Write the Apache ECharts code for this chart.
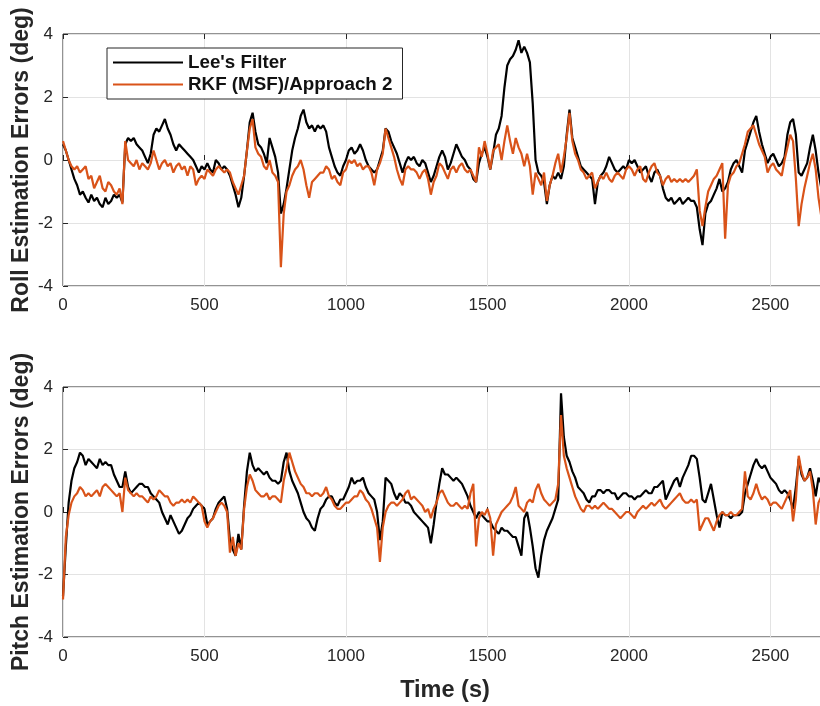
<!DOCTYPE html>
<html>
<head>
<meta charset="utf-8">
<script src="https://cdn.jsdelivr.net/npm/echarts@6/dist/echarts.min.js"></script>
<style>
  html, body { margin: 0; padding: 0; background: #fff; }
  #chart { width: 820px; height: 706px; }
</style>
</head>
<body>
<div id="chart"></div>
<script>
// 时间轴（每 10 s 一个点，0 ~ 2700 s）
const time = Array.from({ length: 271 }, (_, i) => i * 10)

// Roll —— Lee's Filter
const rollLee = [
  0.5, 0.3, 0.0, -0.3, -0.6, -0.8, -1.1, -1.0, -1.2, -1.35,
  -1.1, -1.3, -1.2, -1.4, -1.5, -1.2, -1.4, -1.3, -1.1, -1.2,
  -1.1, -1.35, 0.5, 0.7, 0.6, 0.7, 0.5, 0.4, 0.3, 0.1,
  -0.1, 0.2, 0.8, 1.0, 0.9, 1.1, 1.3, 1.0, 0.8, 0.5,
  0.3, 0.5, 0.4, 0.3, 0.2, 0.1, 0.0, -0.2, -0.4, -0.2,
  -0.3, -0.1, -0.3, -0.4, 0.0, -0.1, -0.3, -0.2, -0.3, -0.5,
  -0.8, -1.1, -1.5, -1.2, -0.5, 0.3, 1.2, 1.5, 0.9, 0.5,
  0.4, 0.2, -0.1, 0.7, 0.4, 0.1, -0.4, -1.7, -1.4, -0.9,
  -0.3, 0.3, 0.7, 1.0, 1.4, 1.6, 1.2, 1.0, 1.1, 0.9,
  1.1, 1.0, 1.1, 0.9, 0.4, 0.1, -0.2, -0.4, -0.5, -0.2,
  0.0, 0.3, 0.4, 0.2, 0.3, 0.5, 0.3, 0.0, -0.2, -0.3,
  -0.4, -0.3, 0.0, 0.3, 1.0, 0.9, 0.6, 0.4, 0.2, -0.1,
  -0.4, -0.1, 0.1, 0.0, 0.1, -0.1, -0.2, 0.0, -0.1, -0.4,
  -0.7, -0.5, -0.2, 0.1, 0.3, 0.1, -0.3, -0.1, 0.2, 0.5,
  0.3, 0.1, 0.0, -0.2, -0.3, -0.6, -0.7, -0.1, 0.2, 0.4,
  0.1, -0.3, 0.2, 0.8, 1.0, 1.4, 2.3, 3.0, 3.2, 3.3,
  3.5, 3.8, 3.4, 3.6, 3.4, 3.1, 1.8, 0.0, -0.4, -0.5,
  -0.7, -1.4, -0.8, -0.5, -0.6, -0.4, -0.6, -0.2, 0.8, 1.6,
  0.7, 0.4, 0.1, -0.2, -0.3, -0.4, -0.5, -0.6, -1.4, -0.7,
  -0.5, -0.4, -0.2, 0.1, -0.1, -0.3, -0.4, -0.3, -0.2, -0.3,
  0.0, -0.1, 0.0, -0.2, -0.4, -0.3, -0.2, -0.5, -0.7, -0.4,
  -0.3, -0.5, -0.9, -1.2, -1.3, -1.2, -1.4, -1.3, -1.2, -1.4,
  -1.3, -1.2, -1.3, -1.3, -1.5, -2.2, -2.7, -1.7, -1.4, -1.3,
  -1.1, -0.9, -0.6, -1.0, -0.9, -0.7, -0.3, -0.1, 0.0, -0.2,
  -0.4, 0.3, 0.6, 0.9, 1.2, 1.4, 0.9, 0.5, 0.2, -0.1,
  0.1, 0.2, 0.0, -0.2, -0.1, 0.1, 0.8, 1.2, 1.3, 0.8,
  -0.4, -0.5, -0.3, -0.1, 0.4, 0.8, 0.3, -0.4, -0.9, -0.7,
  -0.5
]

// Roll —— RKF (MSF)/Approach 2
const rollRkf = [
  0.6, 0.3, 0.0, -0.2, -0.3, -0.2, -0.4, -0.3, -0.2, -0.6,
  -0.5, -0.9, -0.7, -0.5, -0.9, -1.0, -0.7, -0.8, -1.0, -1.1,
  -0.9, -1.4, 0.6, 0.0, -0.1, -0.2, 0.0, -0.3, -0.1, -0.2,
  -0.3, -0.1, 0.3, 0.0, -0.3, -0.1, 0.0, -0.2, -0.1, -0.4,
  -0.2, -0.1, -0.3, -0.2, -0.5, -0.2, -0.3, -0.8, -0.6, -0.5,
  -0.6, -0.3, -0.4, -0.5, -0.3, -0.2, -0.3, -0.4, -0.3, -0.4,
  -0.7, -0.9, -1.1, -0.8, -0.5, 0.3, 1.0, 1.3, 0.4, 0.2,
  0.1, -0.2, -0.3, 0.0, -0.4, -0.5, -0.7, -3.4, -1.7, -1.0,
  -0.8, -0.5, -0.3, -0.2, 0.0, -0.3, -0.8, -1.2, -0.7, -0.6,
  -0.5, -0.4, -0.4, -0.2, -0.3, -0.6, -0.5, -0.7, -0.8, -0.4,
  -0.3, 0.0, -0.1, 0.0, -0.2, -0.1, -0.3, -0.2, -0.2, -0.4,
  -0.8, -0.3, -0.1, 0.2, 1.0, 0.7, 0.4, 0.1, -0.3, -0.6,
  -0.8, -0.3, -0.2, -0.3, -0.3, -0.4, -0.6, -0.4, -0.3, -0.6,
  -1.1, -0.7, -0.5, -0.1, -0.2, -0.4, -0.6, -0.3, -0.2, -0.4,
  -0.2, -0.1, -0.3, -0.4, -0.3, -0.5, -0.7, 0.4, 0.1, 0.6,
  0.2, -0.3, 0.3, 0.4, 0.5, 0.0, 0.6, 1.1, 0.6, 0.2,
  0.7, 0.4, 0.2, -0.2, 0.2, -0.2, -1.1, -0.4, -0.6, -0.8,
  -0.4, -1.3, -0.8, -0.5, -0.1, 0.2, -0.4, 0.1, 0.7, 1.5,
  0.6, 0.2, 0.0, -0.3, -0.4, -0.6, -0.5, -0.4, -0.9, -0.7,
  -0.5, -0.6, -0.4, -0.6, -0.7, -0.5, -0.4, -0.5, -0.6, -0.3,
  -0.2, -0.3, -0.5, -0.3, -0.2, -0.6, -0.7, -0.4, -0.2, -0.1,
  -0.4, -0.5, -0.8, -0.6, -0.5, -0.7, -0.6, -0.7, -0.6, -0.7,
  -0.6, -0.7, -0.6, -0.5, -0.3, -1.6, -2.1, -1.5, -1.0, -0.8,
  -0.6, -0.5, -0.3, -0.1, -2.5, -0.8, -0.5, -0.4, -0.2, -0.1,
  0.2, 0.5, 0.9, 1.0, 1.1, 0.8, 0.5, 0.3, 0.1, -0.4,
  -0.2, -0.1, -0.3, -0.4, -0.5, 0.0, 0.4, 0.8, 0.6, -0.6,
  -2.1, -1.4, -0.9, -0.5, -0.1, 0.2, -0.3, -1.2, -1.8, -1.6,
  -1.4
]

// Pitch —— Lee's Filter
const pitchLee = [
  -2.7, -1.1, 0.3, 1.0, 1.4, 1.6, 1.9, 1.8, 1.5, 1.7,
  1.6, 1.5, 1.4, 1.7, 1.5, 1.6, 1.5, 1.5, 1.2, 1.0,
  0.8, 0.8, 1.3, 0.8, 0.6, 0.7, 0.8, 0.9, 0.9, 0.8,
  0.8, 0.6, 0.5, 0.4, 0.3, 0.0, -0.2, -0.4, -0.1, -0.3,
  -0.5, -0.7, -0.6, -0.4, -0.2, -0.1, 0.1, 0.2, 0.3, 0.2,
  0.1, -0.4, -0.3, -0.2, 0.1, 0.3, 0.4, 0.5, 0.1, -0.9,
  -1.2, -1.4, -0.7, -1.2, 0.2, 1.3, 1.9, 1.5, 1.3, 1.4,
  1.3, 1.2, 1.3, 1.1, 1.0, 1.0, 0.9, 1.0, 1.6, 1.9,
  1.3, 1.0, 0.8, 0.6, 0.3, 0.0, -0.2, -0.3, -0.5, -0.6,
  -0.2, 0.1, 0.2, 0.4, 0.5, 0.5, 0.3, 0.2, 0.4, 0.4,
  0.6, 0.8, 1.1, 0.9, 1.0, 1.0, 1.1, 0.8, 0.6, 0.5,
  0.4, 0.0, -0.9, -0.3, 1.1, 1.0, 0.9, 0.6, 0.4, 0.6,
  0.5, 0.3, 0.3, 0.2, 0.0, -0.1, -0.2, -0.3, -0.4, -0.5,
  -1.0, -0.4, 0.3, 0.9, 1.4, 1.2, 1.2, 1.1, 1.0, 1.1,
  1.0, 0.9, 0.7, 0.5, 0.2, 0.0, -0.2, 0.0, -0.1, -0.2,
  -0.3, -0.3, -0.5, -0.6, -0.7, -0.5, -0.6, -0.6, -0.7, -0.8,
  -0.8, -1.1, -1.4, -0.2, 0.0, -0.5, -1.1, -1.8, -2.1, -1.4,
  -0.9, -0.6, -0.4, -0.2, 0.1, 0.4, 3.8, 2.4, 1.8, 1.6,
  1.3, 1.1, 0.8, 0.7, 0.6, 0.4, 0.3, 0.5, 0.5, 0.7,
  0.7, 0.6, 0.7, 0.7, 0.6, 0.6, 0.4, 0.5, 0.6, 0.6,
  0.5, 0.5, 0.4, 0.5, 0.5, 0.6, 0.7, 0.6, 0.6, 0.8,
  0.8, 0.9, 1.0, 0.4, 0.6, 0.8, 1.0, 1.1, 0.8, 1.1,
  1.3, 1.5, 1.8, 1.8, 1.7, 1.1, 0.4, 0.3, 0.6, 0.9,
  0.4, -0.1, -0.5, 0.0, -0.1, -0.1, -0.2, -0.1, -0.1, -0.1,
  0.0, 0.6, 0.9, 1.2, 1.5, 1.7, 1.5, 1.4, 1.5, 1.3,
  1.1, 1.0, 0.9, 0.7, 0.6, 0.7, 0.6, 0.4, 0.1, 0.8,
  1.7, 1.2, 1.0, 1.1, 1.4, 1.0, 0.5, 1.1, 0.9, 0.6,
  0.4
]

// Pitch —— RKF (MSF)/Approach 2
const pitchRkf = [
  -2.8, -0.8, -0.1, 0.3, 0.5, 0.6, 0.8, 0.7, 0.5, 0.6,
  0.5, 0.6, 0.7, 0.5, 0.8, 0.9, 0.8, 0.7, 0.6, 0.5,
  0.6, 0.0, 1.1, 0.7, 0.6, 0.5, 0.6, 0.5, 0.5, 0.4,
  0.3, 0.5, 0.4, 0.5, 0.7, 0.6, 0.5, 0.5, 0.3, 0.2,
  0.3, 0.3, 0.4, 0.3, 0.4, 0.3, 0.5, 0.4, 0.3, 0.2,
  -0.3, -0.5, -0.3, -0.2, 0.0, 0.2, 0.3, 0.2, 0.0, -1.3,
  -0.8, -1.4, -1.0, -1.2, 0.1, 0.8, 1.2, 1.0, 0.7, 0.6,
  0.5, 0.5, 0.6, 0.4, 0.5, 0.5, 0.4, 0.3, 1.0, 1.4,
  1.9, 1.6, 1.3, 1.1, 0.9, 0.8, 0.6, 0.6, 0.5, 0.6,
  0.6, 0.5, 0.6, 0.8, 0.5, 0.4, 0.2, 0.1, 0.1, 0.2,
  0.3, 0.3, 0.4, 0.5, 0.5, 0.7, 0.6, 0.4, 0.3, 0.1,
  -0.2, -0.5, -1.6, -0.5, 0.0, 0.2, 0.3, 0.3, 0.2, 0.3,
  0.4, 0.6, 0.7, 0.4, 0.5, 0.4, 0.3, 0.2, 0.0, 0.1,
  -0.2, 0.1, 0.3, 0.6, 0.7, 0.5, 0.3, 0.2, 0.2, 0.3,
  0.2, 0.1, 0.2, 0.1, 0.6, 0.9, -1.1, -0.2, 0.0, -0.1,
  0.1, -0.2, -1.4, -0.4, -0.2, 0.0, 0.1, 0.2, 0.3, 0.5,
  0.8, 0.2, 0.1, 0.0, 0.3, 0.4, 0.3, 0.7, 0.9, 0.6,
  0.4, 0.3, 0.2, 0.3, 0.4, 0.9, 3.1, 1.8, 1.4, 1.1,
  0.8, 0.5, 0.3, 0.1, 0.0, 0.2, 0.2, 0.1, 0.2, 0.1,
  0.2, 0.3, 0.2, 0.1, 0.1, 0.0, -0.1, -0.2, -0.1, 0.0,
  0.0, -0.1, -0.2, 0.0, 0.1, 0.2, 0.1, 0.2, 0.3, 0.2,
  0.3, 0.4, 0.2, 0.1, 0.2, 0.3, 0.4, 0.5, 0.6, 0.4,
  0.3, 0.3, 0.4, 0.3, 0.4, -0.6, -0.4, -0.2, -0.2, -0.4,
  -0.6, -0.3, -0.1, 0.0, -0.1, -0.1, 0.0, -0.1, -0.1, 0.0,
  0.1, 1.3, 0.5, 0.4, 0.6, 0.9, 0.6, 0.4, 0.5, 0.4,
  0.2, 0.3, 0.3, 0.2, 0.1, 0.3, 0.5, 0.7, -0.3, 0.4,
  1.8, 1.3, 1.0, 1.1, 1.3, 0.7, -0.4, 0.3, 0.5, 0.2,
  0.0
]

const xTicks = [0, 500, 1000, 1500, 2000, 2500]
const yTicks = [-4, -2, 0, 2, 4]

const pair = arr => time.map((t, i) => [t, arr[i]])

const textColor = '#262626'
const fontFamily = 'Liberation Sans, Arial, sans-serif'

function xAxisOf(gridIndex, withName) {
  const base = {
    type: 'value', gridIndex, min: 0, max: 2700, interval: 500,
    axisLine: { show: false },
    axisTick: { show: true, inside: true, length: 5, lineStyle: { color: textColor } }
  }
  return [
    {
      ...base, position: 'bottom',
      axisLabel: { color: textColor, fontSize: 17, fontFamily, margin: 11,
        formatter: v => (xTicks.includes(v) ? v : '') },
      splitLine: { show: true, lineStyle: { color: '#e3e3e3' } },
      name: withName ? 'Time (s)' : '',
      nameLocation: 'middle', nameGap: 42,
      nameTextStyle: { color: textColor, fontSize: 23.5, fontWeight: 'bold', fontFamily }
    },
    { ...base, position: 'top', axisLabel: { show: false }, splitLine: { show: false } }
  ]
}

function yAxisOf(gridIndex, name) {
  return {
    type: 'value', gridIndex, min: -4, max: 4, interval: 2,
    axisLine: { show: false },
    axisTick: { show: true, inside: true, length: 5, lineStyle: { color: textColor } },
    axisLabel: { color: textColor, fontSize: 17, fontFamily, margin: 10,
      formatter: v => (yTicks.includes(v) ? v : '') },
    splitLine: { show: true, lineStyle: { color: '#e3e3e3' } },
    name, nameLocation: 'middle', nameGap: 30, nameRotate: 90, nameMoveOverlap: false,
    nameTextStyle: { color: textColor, fontSize: 23, fontWeight: 'bold', fontFamily }
  }
}

const lineSeries = (name, data, color, idx) => ({
  name, type: 'line', data: pair(data),
  xAxisIndex: idx * 2, yAxisIndex: idx,
  showSymbol: false, symbol: 'none',
  lineStyle: { color, width: 2.2 }, itemStyle: { color },
  z: color === '#000000' ? 2 : 3, animation: false
})

const chart = echarts.init(document.getElementById('chart'))
chart.setOption({
  backgroundColor: '#fff',
  animation: false,
  grid: [
    { left: 63, top: 34, right: -7, height: 252, outerBoundsMode: 'none',
      show: true, borderColor: textColor, borderWidth: 1 },
    { left: 63, top: 387, right: -7, height: 250, outerBoundsMode: 'none',
      show: true, borderColor: textColor, borderWidth: 1 }
  ],
  legend: {
    data: ["Lee's Filter", 'RKF (MSF)/Approach 2'],
    orient: 'vertical', left: 107, top: 48,
    icon: 'rect', itemWidth: 70, itemHeight: 2, itemGap: 3,
    padding: [5, 10, 5, 6],
    borderColor: textColor, borderWidth: 1, backgroundColor: '#fff',
    textStyle: { color: '#111', fontSize: 18.8, fontWeight: 'bold', fontFamily },
    selectedMode: false
  },
  xAxis: [...xAxisOf(0, false), ...xAxisOf(1, true)],
  yAxis: [yAxisOf(0, 'Roll Estimation Errors (deg)'), yAxisOf(1, 'Pitch Estimation Errors (deg)')],
  series: [
    lineSeries("Lee's Filter", rollLee, '#000000', 0),
    lineSeries('RKF (MSF)/Approach 2', rollRkf, '#D95319', 0),
    lineSeries("Lee's Filter", pitchLee, '#000000', 1),
    lineSeries('RKF (MSF)/Approach 2', pitchRkf, '#D95319', 1)
  ]
})
</script>
</body>
</html>
